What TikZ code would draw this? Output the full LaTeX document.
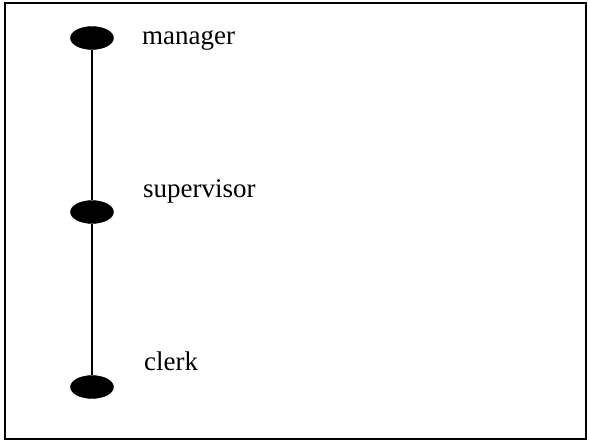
\documentclass[tikz,border=0pt]{standalone}
\usepackage{fontspec}
\setmainfont{Liberation Serif}
\usetikzlibrary{shapes.geometric}
\begin{document}
\begin{tikzpicture}[x=1pt,y=-1pt,
  dot/.style={ellipse,fill=black,draw=black,minimum width=43pt,minimum height=23pt,inner sep=0pt},
  lbl/.style={anchor=base west,inner sep=0pt,font=\fontsize{27}{31}\selectfont},
  conn/.style={line width=1.4pt}]
\useasboundingbox (0,0) rectangle (589,442);
\draw[line width=1.4pt] (5,3) rectangle (586,439);
\node[dot] (m) at (92,38) {};
\node[dot] (s) at (92,212) {};
\node[dot] (c) at (92,387) {};
\draw[conn] (m) -- (s);
\draw[conn] (s) -- (c);
\node[lbl] (tm) at (142,44) {manager};
\node[lbl] (ts) at (143,197) {supervisor};
\node[lbl] (tc) at (144,370) {clerk};
\end{tikzpicture}
\end{document}
